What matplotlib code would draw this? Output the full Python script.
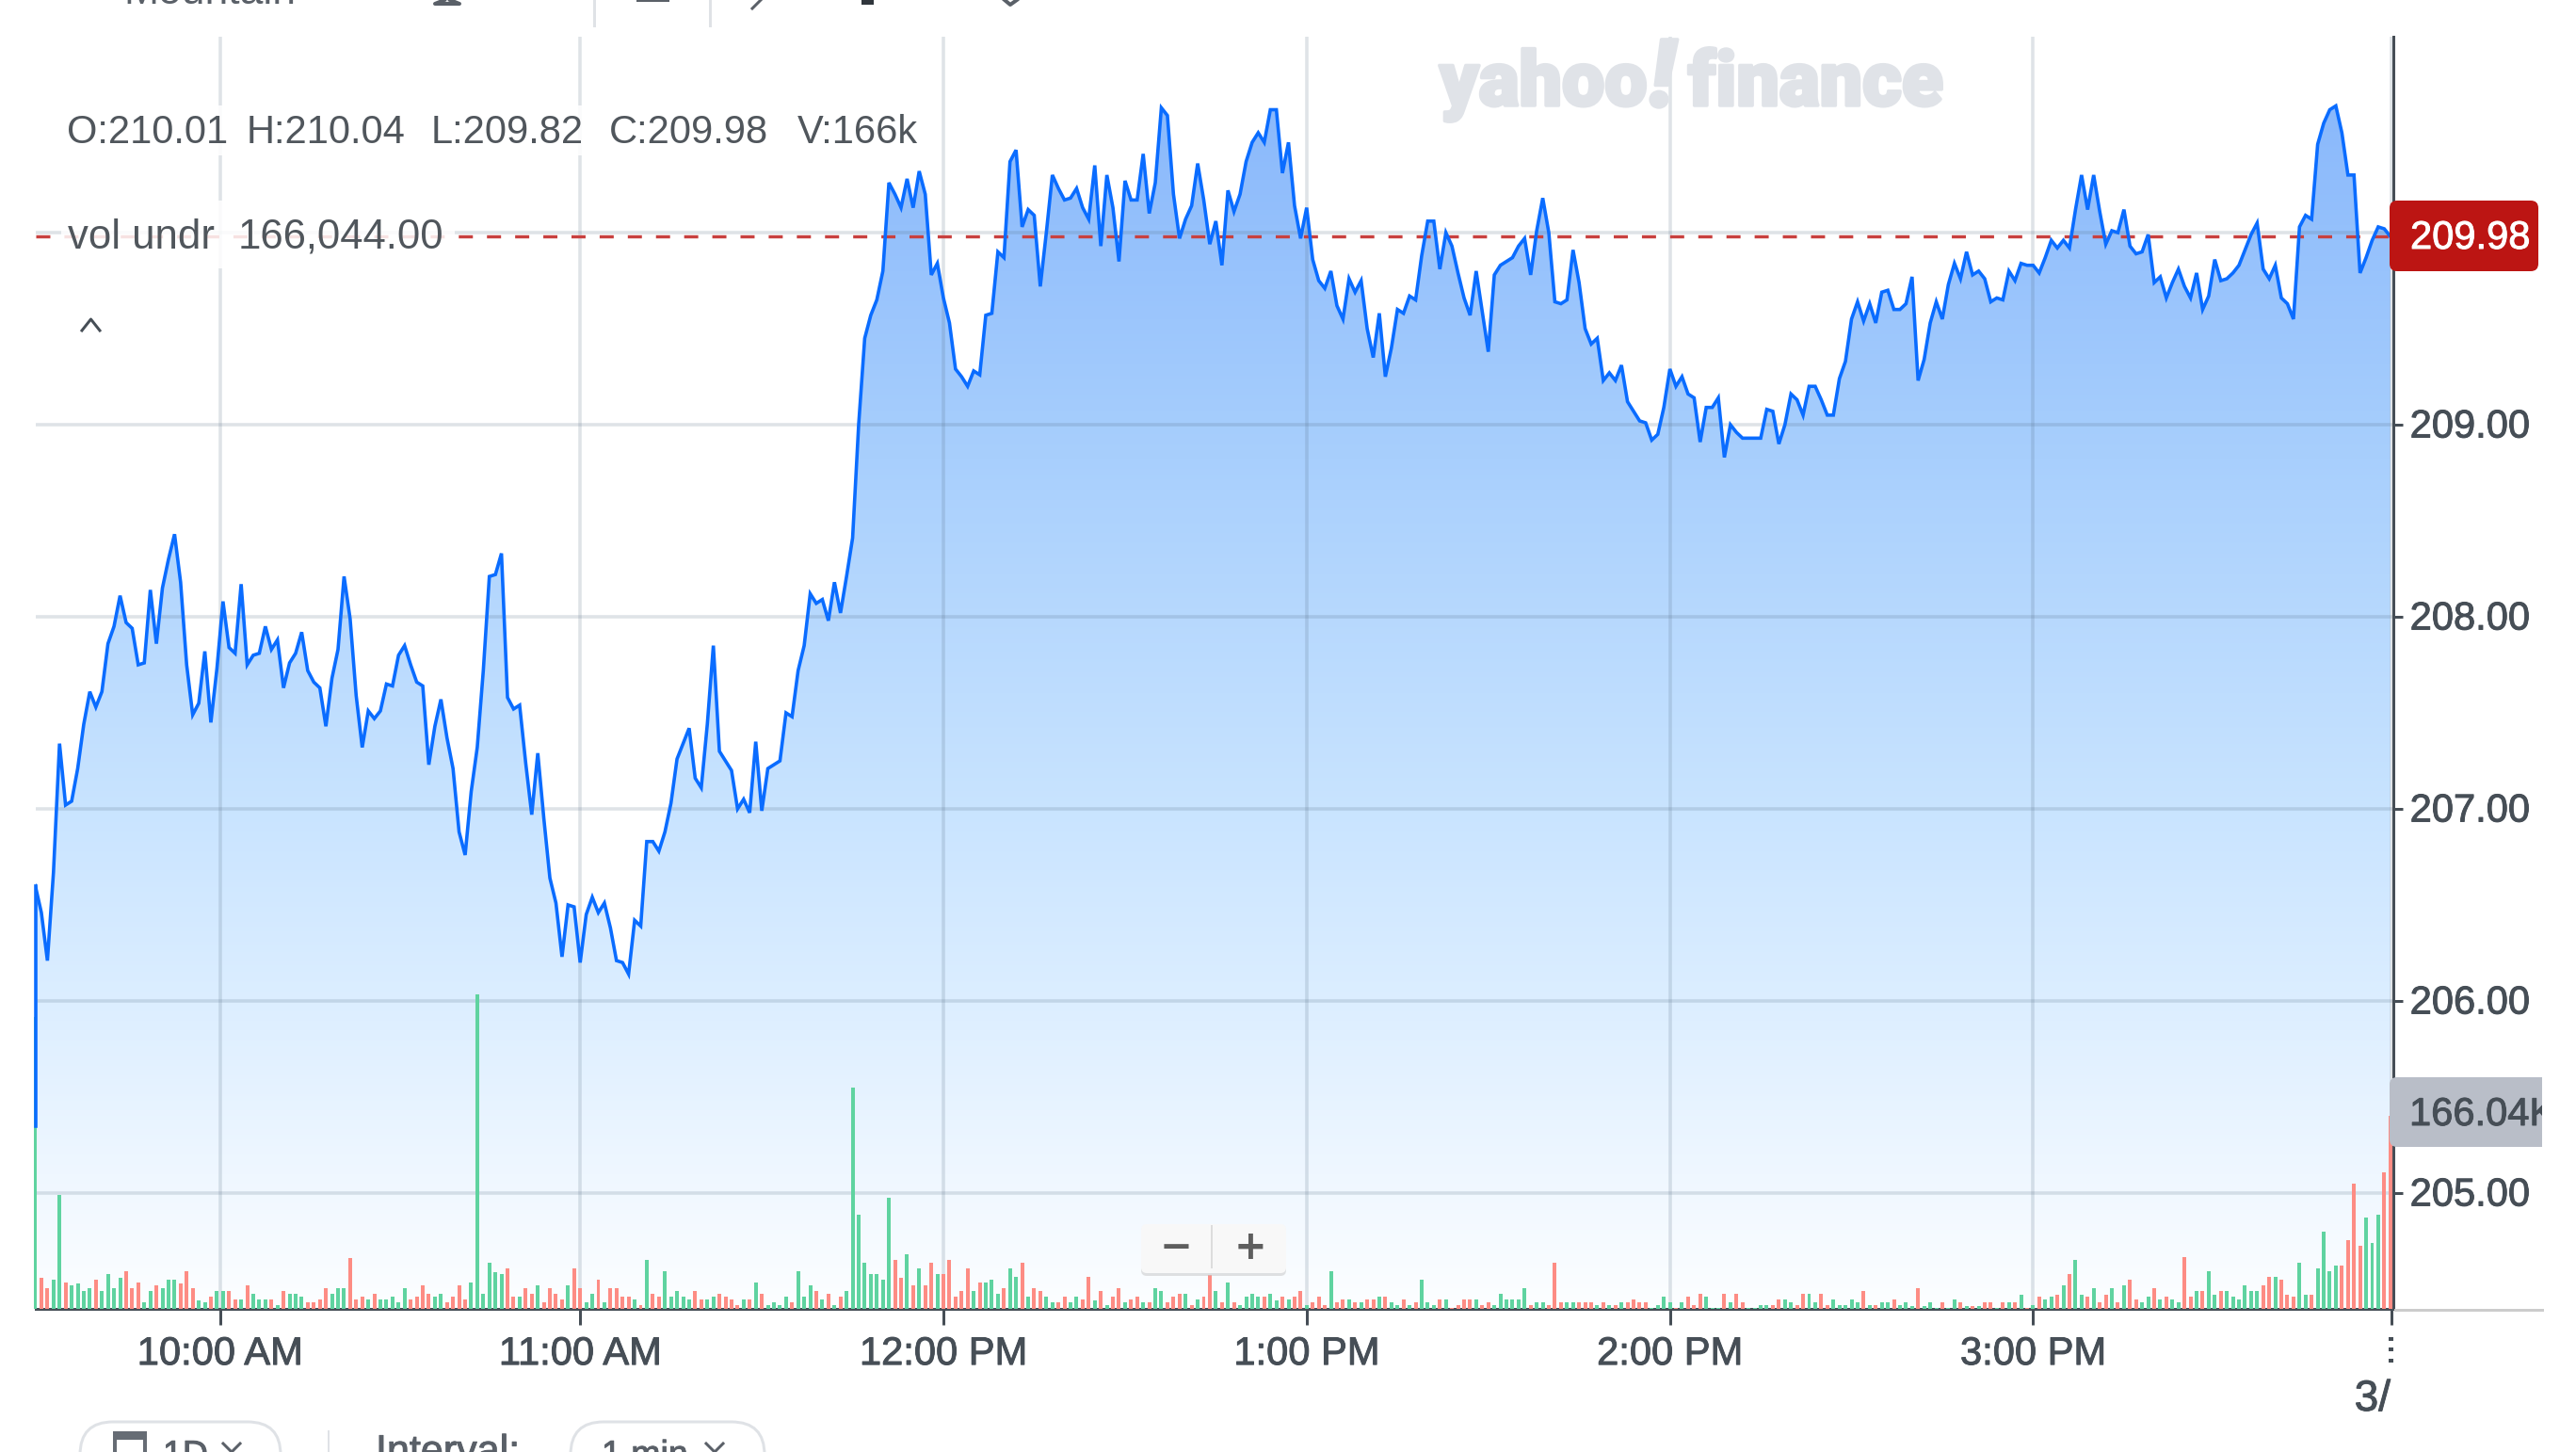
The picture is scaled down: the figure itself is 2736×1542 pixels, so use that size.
import numpy as np
import matplotlib
matplotlib.use('Agg')
import matplotlib.pyplot as plt
import matplotlib.patheffects as pe
from matplotlib.colors import LinearSegmentedColormap
from matplotlib.patches import FancyBboxPatch, Rectangle, Polygon
from matplotlib.transforms import ScaledTranslation

# one price per minute from 9:30
prices_morning = [
    206.60, 206.46, 206.21, 206.67, 207.34, 207.02, 207.04, 207.21, 207.44, 207.61,
    207.53, 207.61, 207.86, 207.95, 208.11, 207.97, 207.94, 207.75, 207.76, 208.14,
    207.86, 208.15, 208.30, 208.43, 208.18, 207.75, 207.49, 207.55, 207.82, 207.45,
    207.73, 208.08, 207.84, 207.81, 208.17, 207.75, 207.80, 207.81, 207.95, 207.83,
    207.88, 207.63, 207.76, 207.81, 207.92, 207.72, 207.66, 207.63, 207.43, 207.68,
    207.83, 208.21, 207.99, 207.59, 207.32, 207.51, 207.47, 207.51, 207.65, 207.64,
    207.80, 207.85, 207.75, 207.66, 207.64, 207.23, 207.43, 207.57, 207.37, 207.21,
    206.88, 206.76, 207.09, 207.32, 207.72, 208.21, 208.22, 208.33, 207.58, 207.52,
    207.54, 207.24, 206.97, 207.29, 206.95, 206.64, 206.51, 206.23, 206.50, 206.49,
    206.20, 206.45, 206.54, 206.46, 206.51, 206.38, 206.21, 206.20, 206.14, 206.42,
    206.39, 206.83, 206.83, 206.78, 206.88, 207.03, 207.26, 207.34, 207.42, 207.16,
    207.11, 207.44, 207.85, 207.30, 207.25, 207.20, 207.00, 207.05, 206.98, 207.35,
    206.99, 207.21, 207.23, 207.25, 207.50, 207.48, 207.72, 207.85, 208.12, 208.07,
    208.09, 207.98, 208.18, 208.02, 208.21]
prices_midday = [
    208.41, 209.00, 209.45, 209.57, 209.65, 209.80, 210.26, 210.20, 210.13, 210.28,
    210.13, 210.32, 210.20, 209.78, 209.84, 209.66, 209.53, 209.29, 209.25, 209.20,
    209.28, 209.26, 209.57, 209.58, 209.90, 209.87, 210.37, 210.43, 210.03, 210.12,
    210.09, 209.72, 210.00, 210.30, 210.23, 210.17, 210.18, 210.23, 210.13, 210.07,
    210.35, 209.93, 210.30, 210.13, 209.85, 210.27, 210.17, 210.17, 210.41, 210.10,
    210.26, 210.65, 210.61, 210.20, 209.97, 210.07, 210.14, 210.36, 210.17, 209.94,
    210.06, 209.83, 210.22, 210.11, 210.20, 210.37, 210.47, 210.52, 210.47, 210.64,
    210.64, 210.31, 210.47, 210.14, 209.97, 210.13, 209.86, 209.75, 209.71, 209.80,
    209.62, 209.55, 209.76, 209.69, 209.75, 209.50, 209.35, 209.58, 209.25, 209.40,
    209.60, 209.58, 209.67, 209.65, 209.88, 210.06, 210.06, 209.81, 210.00, 209.93,
    209.79, 209.66, 209.57, 209.80, 209.59, 209.38, 209.78, 209.83, 209.85, 209.87,
    209.93, 209.97, 209.78, 210.01, 210.18, 210.00, 209.64, 209.63, 209.65, 209.91,
    209.74, 209.50, 209.42, 209.45, 209.23, 209.27, 209.23, 209.31, 209.12, 209.07,
    209.02, 209.01]
prices_afternoon = [
    208.92, 208.95, 209.09, 209.29, 209.20, 209.25, 209.16, 209.14, 208.91, 209.09,
    209.09, 209.14, 208.83, 209.00, 208.96, 208.93, 208.93, 208.93, 208.93, 209.08,
    209.07, 208.90, 209.00, 209.16, 209.13, 209.05, 209.20, 209.20, 209.13, 209.05,
    209.05, 209.24, 209.33, 209.55, 209.64, 209.54, 209.63, 209.53, 209.69, 209.70,
    209.60, 209.60, 209.63, 209.77, 209.23, 209.34, 209.53, 209.64, 209.55, 209.73,
    209.84, 209.76, 209.90, 209.78, 209.80, 209.76, 209.64, 209.66, 209.65, 209.80,
    209.75, 209.84, 209.83, 209.83, 209.79, 209.87, 209.96, 209.92, 209.96, 209.92,
    210.12, 210.30, 210.12, 210.30, 210.11, 209.94, 210.01, 210.00, 210.12, 209.93,
    209.89, 209.90, 209.99, 209.74, 209.77, 209.66, 209.74, 209.81, 209.72, 209.66,
    209.79, 209.60, 209.67, 209.86, 209.75, 209.76, 209.79, 209.83, 209.91, 209.99,
    210.05, 209.81, 209.76, 209.83, 209.66, 209.63, 209.55, 210.03, 210.09, 210.07,
    210.46, 210.57, 210.64, 210.66, 210.52, 210.30, 210.30, 209.79, 209.87, 209.96,
    210.03, 210.02, 209.98]
first_tick_low = 205.35

# volume per minute, thousands
volumes_k = [
    251, 27, 17.8, 24.8, 98, 22.4, 20, 22.1, 15.1, 17.8,
    24.8, 15.1, 29.7, 17.8, 27, 32.4, 17.8, 22.4, 5.4, 15.1,
    20, 17.8, 24.8, 24.8, 22.1, 32.4, 17.8, 7.6, 5.4, 10.3,
    15.1, 15.1, 15.1, 8.1, 8.1, 20, 13, 8.1, 8.1, 8.1,
    3.2, 15.1, 13, 13, 10.3, 5.4, 5.4, 8.1, 17.8, 13,
    17.8, 17.8, 44, 8.1, 10.3, 8.1, 13, 8.1, 8.1, 10.3,
    5.4, 17.8, 8.1, 10.3, 20, 13, 10.3, 13, 5.4, 10.3,
    20, 8.1, 22.4, 270.5, 13, 40, 31.9, 29.7, 34.6, 10.3,
    10.3, 17.8, 13, 20, 5.4, 17.8, 13, 8.1, 20, 34.6,
    17.8, 5.4, 13, 24.8, 5.4, 17.8, 17.8, 10.3, 10.3, 8.1,
    3.2, 42.1, 13, 10.3, 32.4, 10.3, 15.1, 10.3, 8.1, 15.1,
    8.1, 8.1, 10.3, 13, 10.3, 8.1, 3.2, 8.1, 8.1, 22.7,
    13, 3.2, 5.4, 3.2, 10.3, 5.4, 32.4, 10.3, 20, 15.1,
    8.1, 13, 3.2, 10.3, 15.1, 190.4, 81, 40, 29.7, 29.7,
    24.8, 95.3, 42.1, 27, 47, 20, 34.6, 20, 40, 29.7,
    29.7, 42.1, 10.3, 15.1, 34.6, 15.1, 22.4, 22.4, 24.8, 13,
    17.8, 34.6, 27.5, 39.4, 10.3, 17.8, 15.1, 10.3, 5.4, 5.4,
    10.3, 5.4, 10.3, 8.1, 27.5, 7.6, 15.1, 3.2, 10.3, 17.8,
    5.4, 8.1, 10.3, 5.4, 5.4, 17.8, 15.1, 5.4, 10.3, 13,
    13, 3.2, 8.1, 10.3, 29, 15.1, 5.4, 22.4, 5.4, 3.2,
    10.3, 13, 10.3, 10.3, 13, 7.6, 10.3, 8.1, 10.3, 15.1,
    3.2, 5.4, 10.3, 3.2, 32.4, 5.4, 8.1, 8.1, 5.4, 5.4,
    8.1, 8.1, 10.3, 10.3, 5.4, 3.2, 8.1, 3.2, 5.4, 24.8,
    5.4, 3.2, 8.1, 8.1, 0.5, 3.2, 8.1, 8.1, 8.1, 3.2,
    5.4, 3.2, 13, 8.1, 8.1, 8.1, 17.8, 3.2, 5.4, 5.4,
    3.2, 40, 5.4, 5.4, 5.4, 5.4, 5.4, 5.4, 3.2, 5.4,
    3.2, 3.2, 5.4, 5.4, 8.1, 5.4, 5.4, 1.1, 3.2, 10.3,
    5.4, 1.1, 5.4, 10.3, 3.2, 13, 10.3, 1.1, 1.1, 13,
    5.4, 13, 5.4, 1.1, 1.1, 3.2, 3.2, 3.2, 8.1, 8.1,
    5.4, 3.2, 13, 13, 5.4, 13, 3.2, 8.1, 3.2, 3.2,
    8.1, 5.4, 15.1, 3.2, 3.2, 5.4, 5.4, 8.1, 3.2, 5.4,
    2.7, 17.8, 2.7, 5.4, 0.8, 5.4, 0.8, 8.1, 5.4, 2.7,
    2.7, 2.7, 5.4, 5.4, 0.8, 5.4, 5.4, 5.4, 12.4, 0.8,
    3.2, 10.3, 8.1, 10.3, 12.4, 20, 29.7, 41.9, 12.4, 10.3,
    17.8, 5.4, 12.4, 17.8, 5.4, 20, 24.8, 8.1, 5.4, 10.3,
    17.8, 8.1, 10.3, 8.1, 5.4, 44.6, 10.3, 15.1, 15.1, 32.4,
    12.4, 15.1, 15.1, 10.3, 8.1, 20, 15.1, 15.1, 20, 27.5,
    27.5, 24.8, 12.4, 10.3, 40, 12.4, 12.4, 34.6, 66.2, 32.4,
    37.3, 37.3, 58.9, 107.5, 54, 78.3, 56.7, 81, 117.2, 166.04]
# g = up minute, r = down minute
volume_dirs = (
    "grrggrgggg" "rggggrrrgg" "rgggrrrggr" "ggrrgrgggr" "grgggrrrrg"
    "ggrrrgrggg" "ggrrrrggrr" "rrggggggrr" "grrgrrrrgr" "rggrgrrrrg"
    "rgrrgggggr" "rggrrrrgrg" "rggggrgggr" "grgrgggggg" "ggrrgrgrrg"
    "rrrrrgrggg" "rggrgrrggr" "rggrrgrgrr" "grrgrggrrr" "grgrrgrgrg"
    "gggrggrgrr" "grrrgrrgrg" "rrgrggrgrg" "ggrgrrrrgr" "rggggggrgg"
    "rrrggrrrgr" "grgrrrrggg" "grgrrrgggr" "grrggggrrg" "grrggrrggg"
    "ggrgrggrgg" "grgggrggrg" "rgrrgrgrgr" "grggrgrggr" "grrgrgrrgg"
    "rgrggrrgrg" "grggggggrr" "grrrggrggg" "grrrrgggrr")

hour_ticks = [30.5, 90, 150, 210, 270, 330]
hour_labels = ['10:00 AM', '11:00 AM', '12:00 PM', '1:00 PM', '2:00 PM', '3:00 PM']
session_end = 389.2
price_ticks = [205, 206, 207, 208, 209, 210]
last_price = 209.98

prices = np.array(prices_morning + prices_midday + prices_afternoon)
minutes = np.arange(len(prices))

W, H = 2736, 1542
DARK = '#464e56'
SANS = 'Liberation Sans'
px = 0.72  # one image pixel in points at dpi 100

fig = plt.figure(figsize=(W / 100, H / 100), dpi=100)
rect = [37.5 / W, (H - 1390) / H, (2542 - 37.5) / W, (1390 - 39) / H]
ax = fig.add_axes(rect)
ax.patch.set_visible(False)

# gradient under the price line
xlim = (0, 389.5)
ylim = (204.397, 211.02)
stops = [(0.0, '#84b4fb'), (0.33, '#a8cffd'), (0.61, '#c9e4ff'), (0.76, '#dceeff'),
         (0.91, '#f1f8ff'), (1.0, '#fcfeff')]
cmap = LinearSegmentedColormap.from_list('area', stops)
grad = np.linspace(0, 1, 512).reshape(-1, 1)
im = ax.imshow(grad, cmap=cmap, aspect='auto', extent=(xlim[0], xlim[1], ylim[0], ylim[1]),
               origin='upper', zorder=1, interpolation='bilinear')
area = ax.fill_between(minutes, prices, ylim[0], facecolor='none', edgecolor='none')
clip = Polygon(area.get_paths()[0].vertices, transform=ax.transData)
im.set_clip_path(clip)
ax.set_xlim(*xlim)
ax.set_ylim(*ylim)

ax.plot(minutes, prices, color='#0a6cff', lw=3.6 * px, solid_joinstyle='miter', zorder=4)

# grid sits over the fill so it darkens through it
grid_kw = dict(color='#50687e', alpha=0.18, lw=3.6 * px, zorder=2.5)
for t in hour_ticks + [session_end]:
    ax.axvline(t, **grid_kw)
for p in price_ticks:
    ax.axhline(p, **grid_kw)

ax.axhline(last_price, color='#c8403e', lw=3.4 * px, dashes=(4.4, 4.4), zorder=3)

ax.set_xticks(hour_ticks + [session_end], hour_labels + [''])
ax.set_yticks(price_ticks, [f'{p:.2f}' for p in price_ticks[:-1]] + [''])
ax.yaxis.tick_right()
ax.tick_params(axis='x', length=17 * px, width=3 * px, color=DARK, pad=8, labelsize=30,
               labelcolor=DARK)
ax.tick_params(axis='y', length=10 * px, width=3 * px, color=DARK, pad=5.5, labelsize=30,
               labelcolor=DARK)
lift = ScaledTranslation(0, 2 / 100, fig.dpi_scale_trans)
for lab in ax.get_yticklabels():
    lab.set_transform(lab.get_transform() + lift)
for lab in ax.get_xticklabels() + ax.get_yticklabels():
    lab.set_family(SANS)
    lab.set_path_effects([pe.withStroke(linewidth=0.7, foreground=DARK)])
for side in ['top', 'left']:
    ax.spines[side].set_visible(False)
for side in ['bottom', 'right']:
    ax.spines[side].set_color(DARK)
    ax.spines[side].set_linewidth(3 * px)

# volume bars in their own axes on the same minutes
ax_vol = fig.add_axes(rect, zorder=3)
ax_vol.patch.set_visible(False)
ax_vol.axis('off')
ax_vol.set_xlim(*xlim)
ax_vol.set_ylim(0, 1094)
bar_colors = ['#5fd3a0' if d == 'g' else '#fd8c84' for d in volume_dirs]
ax_vol.bar(minutes, volumes_k, width=0.62, color=bar_colors, linewidth=0, clip_on=False)
ax_vol.plot([0, 0], [first_tick_low, prices[0]], color='#0a6cff', lw=3.6 * px,
            transform=ax.transData, clip_on=False)

# overlay in image pixels for the interface parts around the chart
ui = fig.add_axes([0, 0, 1, 1], zorder=5)
ui.set_xlim(0, W)
ui.set_ylim(H, 0)
ui.axis('off')
ui.patch.set_visible(False)


def label(x, y, s, size=30, color=DARK, ha='left', va='center', bold=False, **kw):
    t = ui.text(x, y, s, fontsize=size, color=color, ha=ha, va=va, family=SANS, **kw)
    if bold:
        t.set_path_effects([pe.withStroke(linewidth=0.7, foreground=color)])
    return t


# watermark goes under the chart line but the chart has no background
wm = dict(color='#e0e3e8', family='Roboto', fontweight='black', va='baseline', zorder=0,
          path_effects=[pe.withStroke(linewidth=2.5, foreground='#e0e3e8')])
fig.text(1529 / W, 1 - 112 / H, 'yahoo', fontsize=58, **wm)
fig.text(1752 / W, 1 - 113 / H, '!', fontsize=72, style='italic', **wm)
fig.text(1793 / W, 1 - 112 / H, 'finance', fontsize=58, **wm)

# OHLC readout with its faint white backing
ui.add_patch(Rectangle((60, 112), 930, 53, fc='white', alpha=0.88, ec='none'))
ui.add_patch(Rectangle((65, 213), 418, 72, fc='white', alpha=0.85, ec='none'))
ohlc_color = '#50565c'
for x, s in [(71, 'O:210.01'), (262, 'H:210.04'), (458, 'L:209.82'), (647, 'C:209.98'),
             (847, 'V:166k')]:
    label(x, 141, s, color=ohlc_color)
label(72, 252, 'vol undr', size=31.5, color=ohlc_color)
label(253, 252, '166,044.00', size=31.5, color=ohlc_color)
ui.plot([87, 96.5, 106], [351, 339, 351], color=DARK, lw=3 * px)

# price and volume flags on the right axis
ui.add_patch(FancyBboxPatch((2546, 221), 142, 59, boxstyle='round,pad=8,rounding_size=8',
                            fc='#bc1513', ec='none'))
label(2560, 253, '209.98', color='white', bold=True)
ui.add_patch(FancyBboxPatch((2546, 1152), 170, 58, boxstyle='round,pad=8,rounding_size=8',
                            fc='#b9bec8', ec='none'))
label(2559, 1184, '166.04K', bold=True)
ui.plot([2544, 2700], [1390.5, 1390.5], color='#cccccc', lw=3 * px)
ui.add_patch(Rectangle((2700, 1130), 36, 100, fc='white', ec='none', zorder=4))

# truncated x label at the end of the session
label(2539, 1486, '3/', size=33, ha='right', bold=True)
for y in [1421, 1432, 1444]:
    ui.add_patch(Rectangle((2537, y - 1.5), 5, 4, fc=DARK, ec='none'))

# zoom control
ui.add_patch(FancyBboxPatch((1216, 1306), 146, 45, boxstyle='round,pad=4,rounding_size=6',
                            fc='#c4c4c4', ec='none', alpha=0.5))
ui.add_patch(FancyBboxPatch((1216, 1304), 146, 44, boxstyle='round,pad=4,rounding_size=6',
                            fc='#f8f8f8', ec='none'))
ui.plot([1287, 1287], [1302, 1346], color='#dddddd', lw=2 * px)
ui.text(1249, 1325, '\u2212', fontsize=30, color='#5e5e5e', ha='center', va='center',
        family='DejaVu Sans', fontweight='bold')
ui.text(1328, 1325, '+', fontsize=30, color='#5e5e5e', ha='center', va='center',
        family='DejaVu Sans', fontweight='bold')

# toolbar remnants cut off by the top of the screenshot
label(131, -8, 'Mountain', size=32, color='#5a6068')
for x in [631, 754]:
    ui.plot([x, x], [0, 27], color='#dfe2e6', lw=3 * px)
ui.add_patch(Rectangle((676, 0), 35, 2, fc='#5a6068', ec='none'))
ui.plot([472, 462, 488, 478], [0, 4, 4, 0], color='#5a6068', lw=4 * px)
ui.plot([808, 799], [0, 9], color='#5a6068', lw=3 * px)
ui.add_patch(Rectangle((915, 0), 13, 5, fc='#30363c', ec='none'))
ui.plot([1067, 1073, 1080], [0, 5, 0], color='#5a6068', lw=4 * px)

# range and interval pills cut off by the bottom
for x0, x1 in [(85, 298), (606, 812)]:
    ui.add_patch(FancyBboxPatch((x0 + 35, 1545), x1 - x0 - 70, 60,
                                boxstyle='round,pad=35,rounding_size=35', fc='white',
                                ec='#dfe2e6', lw=3 * px))
ui.plot([349, 349], [1520, 1542], color='#dfe2e6', lw=2 * px)
ui.add_patch(Rectangle((122, 1522), 32, 30, fc='white', ec='#666c74', lw=4 * px))
ui.add_patch(Rectangle((122, 1520), 32, 9, fc='#666c74', ec='none'))
label(173, 1528, '1D', size=27, color='#5a6068', va='top', bold=True)
label(399, 1523, 'Interval:', size=31, color='#5a6068', va='top', bold=True)
label(639, 1528, '1 min', size=27, color='#5a6068', va='top', bold=True)
for x in [246, 759]:
    ui.plot([x - 9, x, x + 9], [1533, 1542, 1533], color='#5a6068', lw=3 * px)

fig.savefig('out.png', dpi=100)
